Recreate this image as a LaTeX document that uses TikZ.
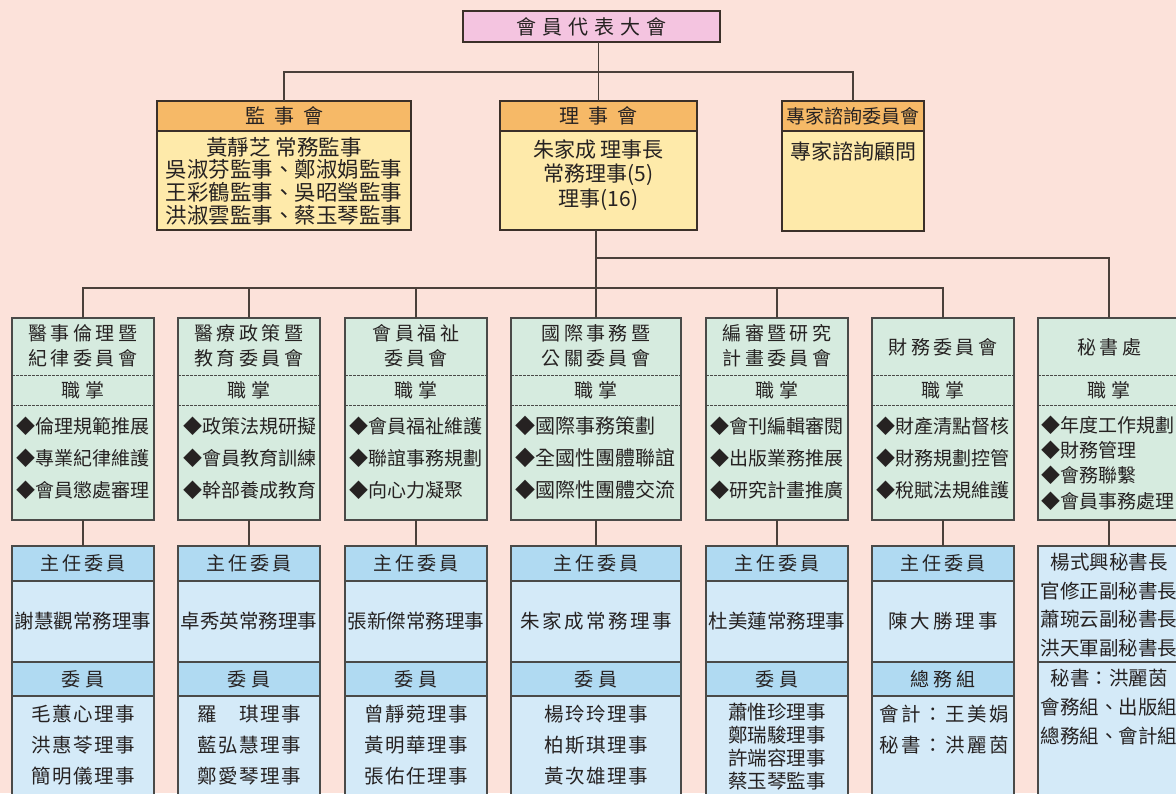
\documentclass[tikz,border=0pt]{standalone}
\usepackage{fontspec}
\setmainfont{Noto Sans CJK TC}
\usetikzlibrary{calc}
\definecolor{bg}{HTML}{FCE2DA}
\definecolor{pnk}{HTML}{F4C4E0}
\definecolor{org}{HTML}{F6B967}
\definecolor{yel}{HTML}{FEEAAA}
\definecolor{grn}{HTML}{D6EBDF}
\definecolor{bhd}{HTML}{B0DAF2}
\definecolor{blu}{HTML}{D4EAF8}
\definecolor{bdr}{HTML}{3B3029}
\definecolor{gbd}{HTML}{4A4A48}
\definecolor{lnc}{HTML}{4A403A}
\definecolor{tc}{HTML}{262222}
\makeatletter
\newcommand\lsp[2]{\def\lsp@k{#1}\lsp@a#2\relax}
\def\lsp@a#1#2{#1\ifx\relax#2\else\kern\lsp@k\relax\expandafter\lsp@a\fi#2}
\makeatother
\newcommand\fs[2]{\fontsize{#1}{#2}\selectfont}
\begin{document}
\begin{tikzpicture}[x=1pt,y=-1pt,
  frame/.style={draw=bdr, line width=1.5pt, inner sep=0pt, outer sep=0pt, anchor=north west},
  gbox/.style={frame, draw=gbd, line width=1.2pt, fill=grn, minimum height=202pt},
  bbox/.style={frame, draw=gbd, line width=1.3pt},
  conn/.style={draw=lnc, line width=1.4pt},
  txt/.style={inner sep=0pt, text=tc, align=center},
  ltxt/.style={inner sep=0pt, text=tc, align=left, anchor=west},
  sepline/.style={draw=gbd, line width=0.8pt, dash pattern=on 2.5pt off 1.5pt}]
\clip (0,0) rectangle (1176,793);
\fill[bg] (0,0) rectangle (1176,793);
\coordinate (bus1) at (0,72);
\coordinate (bus2) at (0,288);
\coordinate (bus3) at (0,258);
% top level
\node[frame, fill=pnk, minimum width=257pt, minimum height=31pt] (top) at (463,11) {};
\node[txt, font=\fs{20}{24}] at (top.center) {\lsp{6pt}{會員代表大會}};
% 監事會
\node[frame, fill=yel, minimum width=254pt, minimum height=129pt] (js) at (157,101) {};
\node[frame, fill=org, minimum width=254pt, minimum height=30pt] (jsh) at (157,101) {};
\node[txt, font=\fs{20}{24}] at (jsh.center) {\lsp{9pt}{監事會}};
\node[txt, font=\fs{21.5}{22.6}] at (284,181) {黃靜芝 常務監事\\吳淑芬監事、鄭淑娟監事\\王彩鶴監事、吳昭瑩監事\\洪淑雲監事、蔡玉琴監事};
% 理事會
\node[frame, fill=yel, minimum width=197pt, minimum height=129pt] (ls) at (500,101) {};
\node[frame, fill=org, minimum width=197pt, minimum height=30pt] (lsh) at (500,101) {};
\node[txt, font=\fs{20}{24}] at (lsh.center) {\lsp{9pt}{理事會}};
\node[txt, font=\fs{21}{24.5}] at (598.5,175) {朱家成 理事長\\常務理事(5)\\理事(16)};
% 專家諮詢委員會
\node[frame, fill=yel, minimum width=142pt, minimum height=130pt] (zj) at (782,101) {};
\node[frame, fill=org, minimum width=142pt, minimum height=30pt] (zjh) at (782,101) {};
\node[txt, font=\fs{19}{24}] at (zjh.center) {專家諮詢委員會};
\node[txt, font=\fs{21}{24}] at (853,151) {專家諮詢顧問};
% connectors top
\draw[conn] (top.south -| ls.north) -- (ls.north);
\draw[conn] (js.north) -- (js.north |- bus1) -- (zj.north |- bus1) -- (zj.north);
% committees
\foreach \n/\l/\w in {c1/12/142, c2/178/142, c3/345/142, c4/511/170, c5/706/142, c6/872/142, c7/1038/142}{
  \node[gbox, minimum width=\w pt] (\n) at (\l,318) {};
  \draw[sepline] (\l,375) -- ++(\w,0);
  \draw[sepline] (\l,405) -- ++(\w,0);
  \node[txt, font=\fs{19}{24}] at ({\l+\w/2},390) {\lsp{5pt}{職掌}};
  \node[bbox, fill=blu, minimum width=\w pt, minimum height=260pt] (b\n) at (\l,546) {};
}
\foreach \n/\l/\w in {c1/12/142, c2/178/142, c3/345/142, c4/511/170, c5/706/142, c6/872/142}{
  \node[bbox, fill=bhd, minimum width=\w pt, minimum height=35pt] (h\n) at (\l,546) {};
  \node[bbox, fill=bhd, minimum width=\w pt, minimum height=34pt] (m\n) at (\l,662) {};
  \node[txt, font=\fs{19}{24}] at (h\n.center) {\lsp{3pt}{主任委員}};
}
\draw[bbox] (1038,662) -- (1180,662);
% titles
\node[txt, font=\fs{19}{25}] at (83,345.5) {\lsp{3.5pt}{醫事倫理暨}\\\lsp{3.5pt}{紀律委員會}};
\node[txt, font=\fs{19}{25}] at (249,345.5) {\lsp{3.5pt}{醫療政策暨}\\\lsp{3.5pt}{教育委員會}};
\node[txt, font=\fs{19}{25}] at (416,345.5) {\lsp{3.5pt}{會員福祉}\\\lsp{3.5pt}{委員會}};
\node[txt, font=\fs{19}{25}] at (596,345.5) {\lsp{3.5pt}{國際事務暨}\\\lsp{3.5pt}{公關委員會}};
\node[txt, font=\fs{19}{25}] at (777,345.5) {\lsp{3.5pt}{編審暨研究}\\\lsp{3.5pt}{計畫委員會}};
\node[txt, font=\fs{19}{25}] at (943,347) {\lsp{3.5pt}{財務委員會}};
\node[txt, font=\fs{19}{25}] at (1109,347) {\lsp{3.5pt}{秘書處}};
% items
\node[ltxt, font=\fs{19}{32}] at (16,458) {◆倫理規範推展\\◆專業紀律維護\\◆會員懲處審理};
\node[ltxt, font=\fs{19}{32}] at (183,458) {◆政策法規研擬\\◆會員教育訓練\\◆幹部養成教育};
\node[ltxt, font=\fs{19}{32}] at (349,458) {◆會員福祉維護\\◆聯誼事務規劃\\◆向心力凝聚};
\node[ltxt, font=\fs{20}{32}] at (515,458) {◆國際事務策劃\\◆全國性團體聯誼\\◆國際性團體交流};
\node[ltxt, font=\fs{19}{32}] at (710,458) {◆會刊編輯審閱\\◆出版業務推展\\◆研究計畫推廣};
\node[ltxt, font=\fs{19}{32}] at (876,458) {◆財產清點督核\\◆財務規劃控管\\◆稅賦法規維護};
\node[ltxt, font=\fs{19}{25.4}] at (1041,463) {◆年度工作規劃\\◆財務管理\\◆會務聯繫\\◆會員事務處理};
% connectors committees
\draw[conn] (ls.south -| c4.north) -- (c4.north);
\draw[conn] (c1.north) -- (c1.north |- bus2) -- (c6.north |- bus2) -- (c6.north);
\foreach \n in {c2,c3,c5}{\draw[conn] (\n.north |- bus2) -- (\n.north);}
\draw[conn] (c4.north |- bus3) -- (c7.north |- bus3) -- (c7.north);
\foreach \n in {c1,c2,c3,c4,c5,c6,c7}{\draw[conn] (\n.south) -- (b\n.north);}
% chair names
\node[txt, font=\fs{19.5}{24}] at (83,621.5) {謝慧觀常務理事};
\node[txt, font=\fs{19.5}{24}] at (249,621.5) {卓秀英常務理事};
\node[txt, font=\fs{19.5}{24}] at (416,621.5) {張新傑常務理事};
\node[txt, font=\fs{19.5}{24}] at (596,621.5) {\lsp{2.5pt}{朱家成常務理事}};
\node[txt, font=\fs{19.5}{24}] at (777,621.5) {杜美蓮常務理事};
\node[txt, font=\fs{19.5}{24}] at (943,621.5) {\lsp{3pt}{陳大勝理事}};
% member headers
\foreach \n in {c1,c2,c3,c4,c5}{\node[txt, font=\fs{19}{24}] at (m\n.center) {\lsp{6pt}{委員}};}
\node[txt, font=\fs{19}{24}] at (mc6.center) {\lsp{4pt}{總務組}};
% members
\node[txt, font=\fs{19.5}{31}] at (83,745) {\lsp{1.5pt}{毛蕙心理事}\\\lsp{1.5pt}{洪惠苓理事}\\\lsp{1.5pt}{簡明儀理事}};
\node[txt, font=\fs{19.5}{31}] at (249,745) {\lsp{1.5pt}{羅　琪理事}\\\lsp{1.5pt}{藍弘慧理事}\\\lsp{1.5pt}{鄭愛琴理事}};
\node[txt, font=\fs{19.5}{31}] at (416,745) {\lsp{1.5pt}{曾靜菀理事}\\\lsp{1.5pt}{黃明華理事}\\\lsp{1.5pt}{張佑任理事}};
\node[txt, font=\fs{19.5}{31}] at (596,745) {\lsp{1.5pt}{楊玲玲理事}\\\lsp{1.5pt}{柏斯琪理事}\\\lsp{1.5pt}{黃次雄理事}};
\node[txt, font=\fs{19.5}{23}] at (777,746.5) {蕭惟珍理事\\鄭瑞駿理事\\許端容理事\\蔡玉琴監事};
\node[txt, font=\fs{19.5}{31}] at (944,729.5) {\lsp{2.5pt}{會計：王美娟}\\\lsp{2.5pt}{秘書：洪麗茵}};
% secretariat
\node[txt, font=\fs{19.5}{28.7}] at (1109,605) {楊式興秘書長\\官修正副秘書長\\蕭琬云副秘書長\\洪天軍副秘書長};
\node[txt, font=\fs{19.5}{29}] at (1109,707) {秘書：洪麗茵\\會務組、出版組\\總務組、會計組};
\end{tikzpicture}
\end{document}
